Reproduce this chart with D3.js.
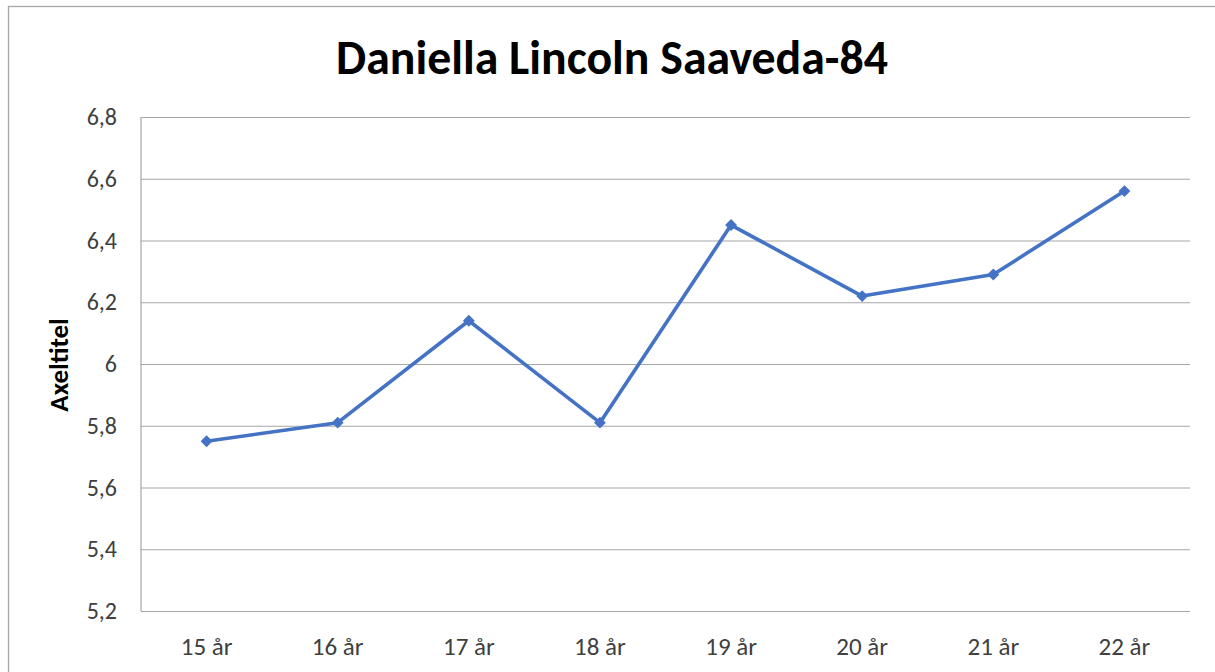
<!DOCTYPE html>
<html>
<head>
<meta charset="utf-8">
<script src="https://cdn.jsdelivr.net/npm/d3@7"></script>
<style>
  body { margin: 0; background: #fff; }
  svg { display: block; }
</style>
</head>
<body>
<div id="wrapper"></div>
<script>
// chart data
const chartTitle = "Daniella Lincoln Saaveda-84";
const yTitle = "Axeltitel";
const categories = ["15 år", "16 år", "17 år", "18 år", "19 år", "20 år", "21 år", "22 år"];
const values = [5.75, 5.81, 6.14, 5.81, 6.45, 6.22, 6.29, 6.56];
const yTicks = [5.2, 5.4, 5.6, 5.8, 6.0, 6.2, 6.4, 6.6, 6.8];

const dimension = {
    width: 1215,
    height: 672,
    margin: { top: 117, left: 141, bottom: 61, right: 25 }
};
dimension.boundedWidth = dimension.width - dimension.margin.left - dimension.margin.right;
dimension.boundedHeight = dimension.height - dimension.margin.top - dimension.margin.bottom;

const font = "Calibri, Carlito, Lato, 'Open Sans', sans-serif";

const svg = d3.select("#wrapper").append("svg")
    .attr("width", dimension.width)
    .attr("height", dimension.height);

// outer chart border (runs off the right and bottom edges)
svg.append("rect")
    .attr("x", 8.5).attr("y", 6.5)
    .attr("width", 1240).attr("height", 700)
    .attr("fill", "#fff")
    .attr("stroke", "#a6a6a6")
    .attr("stroke-width", 1.3);

const bounded = svg.append("g")
    .attr("transform", `translate(${dimension.margin.left},${dimension.margin.top})`);

const xScale = d3.scaleBand()
    .domain(categories)
    .range([0, dimension.boundedWidth]);

const yScale = d3.scaleLinear()
    .domain([5.2, 6.8])
    .range([dimension.boundedHeight, 0]);

// horizontal gridlines
const yAxis = bounded.append("g")
    .call(d3.axisLeft(yScale)
        .tickValues(yTicks)
        .tickSize(-dimension.boundedWidth)
        .tickPadding(24)
        .tickFormat(d => d3.format(".1f")(d).replace(".", ",").replace(",0", "")));
yAxis.select(".domain").remove();
yAxis.selectAll(".tick line").attr("stroke", "#a6a6a6").attr("stroke-width", 1.2);
yAxis.selectAll(".tick text")
    .attr("font-family", font)
    .attr("font-size", 24)
    .attr("fill", "#404040");

// left vertical axis line
bounded.append("line")
    .attr("x1", 0).attr("x2", 0)
    .attr("y1", 0).attr("y2", dimension.boundedHeight)
    .attr("stroke", "#a6a6a6").attr("stroke-width", 1.2);

const xAxis = bounded.append("g")
    .attr("transform", `translate(0,${dimension.boundedHeight})`)
    .call(d3.axisBottom(xScale).tickSize(0).tickPadding(26));
xAxis.select(".domain").remove();
xAxis.selectAll(".tick text")
    .attr("font-family", font)
    .attr("font-size", 25)
    .attr("fill", "#404040");

const lineGenerator = d3.line()
    .x((d, i) => xScale(categories[i]) + xScale.bandwidth() / 2)
    .y(d => yScale(d));

bounded.append("path")
    .attr("d", lineGenerator(values))
    .attr("fill", "none")
    .attr("stroke", "#4472c4")
    .attr("stroke-width", 3.6)
    .attr("stroke-linejoin", "round");

bounded.selectAll(".marker")
    .data(values)
    .join("path")
    .attr("class", "marker")
    .attr("d", d3.symbol().type(d3.symbolDiamond2).size(90))
    .attr("transform", (d, i) => `translate(${xScale(categories[i]) + xScale.bandwidth() / 2},${yScale(d)})`)
    .attr("fill", "#4472c4");

// title
const title = svg.append("text")
    .attr("x", 612)
    .attr("y", 74)
    .attr("text-anchor", "middle")
    .attr("font-family", font)
    .attr("font-weight", "bold")
    .attr("font-size", 37)
    .attr("fill", "#000")
    .text(chartTitle);
const tw = title.node().getComputedTextLength();
if (tw > 0) title.attr("font-size", 37 * 552 / tw);

// y-axis title
const yLabel = svg.append("text")
    .attr("transform", `translate(68,${dimension.margin.top + dimension.boundedHeight / 2 + 1}) rotate(-90)`)
    .attr("text-anchor", "middle")
    .attr("font-family", font)
    .attr("font-weight", "bold")
    .attr("font-size", 24)
    .attr("fill", "#000")
    .text(yTitle);
const lw = yLabel.node().getComputedTextLength();
if (lw > 0) yLabel.attr("font-size", Math.min(27, 24 * 95 / lw));
</script>
</body>
</html>
